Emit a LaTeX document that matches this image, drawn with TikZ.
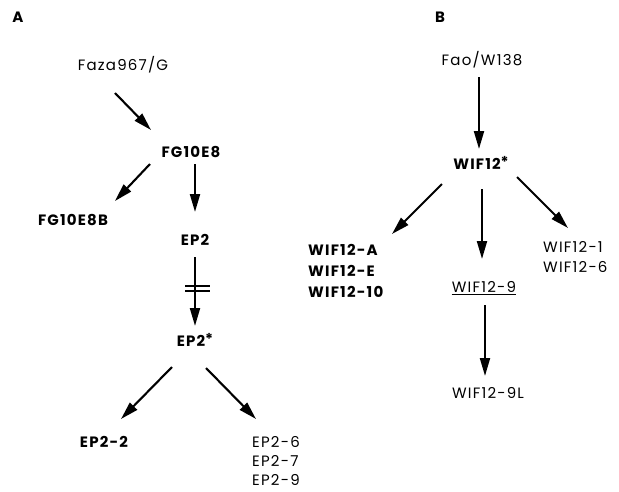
\documentclass[tikz,border=0pt]{standalone}
\usepackage{fontspec}
\setmainfont{Poppins}[LetterSpace=8]
\usetikzlibrary{arrows.meta}
\begin{document}
\begin{tikzpicture}[x=1pt,y=-1pt,
  lbl/.style={font=\fontsize{15}{17}\selectfont, inner sep=0pt},
  blbl/.style={font=\fontsize{15}{17}\selectfont\bfseries, inner sep=0pt},
  arr/.style={line width=2.1pt, -{Triangle[length=18pt,width=10pt]}},
  bar/.style={line width=1.4pt}]
\useasboundingbox (0,0) rectangle (619,491);
% panel A
\node[blbl] (A) at (18,17) {A};
\node[lbl] (faza) at (123,65) {Faza967/G};
\node[blbl] (fg) at (191,152) {FG10E8};
\node[blbl] (fgb) at (73,220) {FG10E8B};
\node[blbl] (ep2) at (195,240) {EP2};
\node[blbl] (ep2s) at (195,340) {EP2\raisebox{0.3ex}{*}};
\node[blbl] (ep22) at (104,442) {EP2-2};
\node[lbl, anchor=west] (ep26) at (252,442) {EP2-6};
\node[lbl, anchor=west] (ep27) at (252,461) {EP2-7};
\node[lbl, anchor=west] (ep29) at (252,480) {EP2-9};
\coordinate (a1s) at (115,93);  \coordinate (a1e) at (151,130);
\coordinate (a2s) at (150,164); \coordinate (a2e) at (115,201);
\coordinate (a3s) at (195,164); \coordinate (a3e) at (195,212);
\coordinate (a4s) at (195,257); \coordinate (a4e) at (195,326);
\coordinate (a5s) at (172,367); \coordinate (a5e) at (121,419);
\coordinate (a6s) at (206,368); \coordinate (a6e) at (256,419);
\draw[arr] (a1s) -- (a1e);
\draw[arr] (a2s) -- (a2e);
\draw[arr] (a3s) -- (a3e);
\draw[arr] (a4s) -- (a4e);
\draw[arr] (a5s) -- (a5e);
\draw[arr] (a6s) -- (a6e);
\coordinate (b1l) at (185,286); \coordinate (b1r) at (210,286);
\coordinate (b2l) at (185,291); \coordinate (b2r) at (210,291);
\draw[bar] (b1l) -- (b1r);
\draw[bar] (b2l) -- (b2r);
% panel B
\node[blbl] (B) at (440,17) {B};
\node[lbl] (fao) at (482,60) {Fao/W138};
\node[blbl] (wif) at (481,163) {WIF12\raisebox{0.3ex}{*}};
\node[blbl, anchor=west] (wa) at (308,250) {WIF12-A};
\node[blbl, anchor=west] (we) at (308,271) {WIF12-E};
\node[blbl, anchor=west] (w10) at (308,292) {WIF12-10};
\node[lbl, anchor=west] (w1) at (543,247) {WIF12-1};
\node[lbl, anchor=west] (w6) at (543,267) {WIF12-6};
\node[lbl] (w9) at (484,287) {WIF12-9};
\node[lbl] (w9l) at (488,393) {WIF12-9L};
\draw[line width=0.9pt] ([yshift=-2pt]w9.south west) -- ([yshift=-2pt]w9.south east);
\coordinate (c1s) at (479,77);  \coordinate (c1e) at (479,149);
\coordinate (c2s) at (442,184); \coordinate (c2e) at (392,234);
\coordinate (c3s) at (482,189); \coordinate (c3e) at (482,259);
\coordinate (c4s) at (517,177); \coordinate (c4e) at (568,228);
\coordinate (c5s) at (485,305); \coordinate (c5e) at (485,376);
\draw[arr] (c1s) -- (c1e);
\draw[arr] (c2s) -- (c2e);
\draw[arr] (c3s) -- (c3e);
\draw[arr] (c4s) -- (c4e);
\draw[arr] (c5s) -- (c5e);
\end{tikzpicture}
\end{document}
